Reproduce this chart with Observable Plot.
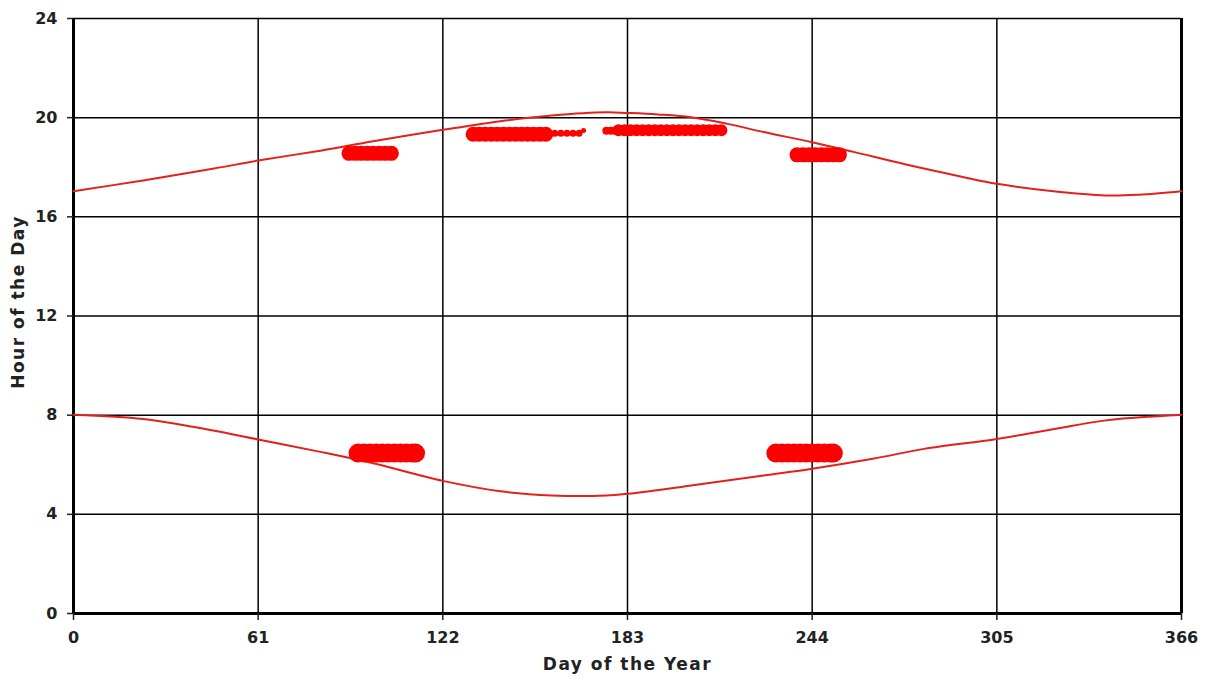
<!DOCTYPE html>
<html><head><meta charset="utf-8">
<script src="https://cdn.jsdelivr.net/npm/d3@7"></script>
<script src="https://cdn.jsdelivr.net/npm/@observablehq/plot@0.6"></script>
<style>body{margin:0;background:#fff}</style>
</head><body><div id="chart"></div>
<script>
const xTicks = [0, 61, 122, 183, 244, 305, 366];
const yTicks = [0, 4, 8, 12, 16, 20, 24];

// Sunset curve (upper)
const sunsetDays  = [0, 23, 46, 61, 82, 99, 122, 141, 158, 176, 183, 193, 204, 216, 228, 244, 258, 275, 293, 305, 323, 341, 352, 366];
const sunsetHours = [17.03, 17.47, 17.94, 18.27, 18.68, 19.05, 19.51, 19.86, 20.09, 20.22, 20.19, 20.13, 20.02, 19.75, 19.42, 19.01, 18.61, 18.11, 17.63, 17.33, 17.04, 16.86, 16.89, 17.03];

// Sunrise curve (lower)
const sunriseDays  = [0, 23, 40, 61, 82, 99, 122, 141, 158, 176, 183, 204, 228, 244, 264, 281, 305, 323, 341, 358, 366];
const sunriseHours = [8.02, 7.85, 7.52, 7.02, 6.51, 6.06, 5.35, 4.93, 4.76, 4.76, 4.83, 5.16, 5.57, 5.84, 6.24, 6.64, 7.04, 7.42, 7.79, 7.96, 8.02];

// Observation clusters
const clusterA = {days: [91, 93, 95, 97, 99, 101, 103, 105], hour: 18.56};
const clusterB = {days: [132, 134, 136, 138, 140, 142, 144, 146, 148, 150, 152, 154, 156], hour: 19.33};
const clusterBtail = {days: [157, 159, 161, 163, 165, 167], hour: 19.37};
const clusterCdot = {days: [168.5], hour: 19.48};
const clusterChead = {days: [176, 177.5, 179], hour: 19.47};
const clusterC = {days: [180, 182, 184, 186, 188, 190, 192, 194, 196, 198, 200, 202, 204, 206, 208, 210, 212, 214], hour: 19.49};
const clusterD = {days: [239, 241, 243, 245, 247, 249, 251, 253], hour: 18.5};
const clusterE = {days: [94, 96, 98, 100, 102, 104, 106, 108, 110, 112, 113], hour: 6.47};
const clusterF = {days: [232, 234, 236, 238, 240, 242, 244, 246, 248, 250, 251], hour: 6.47};

const toPts = (c) => c.days.map(d => ({day: d, hour: c.hour}));
const sunset = sunsetDays.map((d, i) => ({day: d, hour: sunsetHours[i]}));
const sunrise = sunriseDays.map((d, i) => ({day: d, hour: sunriseHours[i]}));

const red = "#ff0000";
const lineRed = "#e3201c";
const dots = (c, r) => Plot.dot(toPts(c), {x: "day", y: "hour", r, fill: red, stroke: "none"});
const font = "DejaVu Sans, Verdana, sans-serif";

const chart = Plot.plot({
  width: 1210,
  height: 684,
  marginLeft: 73,
  marginRight: 29,
  marginTop: 18,
  marginBottom: 71,
  style: {fontFamily: font, color: "#222", background: "#fff"},
  x: {domain: [0, 366]},
  y: {domain: [0, 24]},
  marks: [
    Plot.ruleX(xTicks, {stroke: "#000", strokeWidth: 1.5}),
    Plot.ruleY(yTicks, {stroke: "#000", strokeWidth: 1.5}),
    Plot.ruleX([0, 366], {stroke: "#000", strokeWidth: 3}),
    Plot.ruleY([0], {stroke: "#000", strokeWidth: 3}),
    Plot.axisX({ticks: xTicks, tickSize: 7, tickPadding: 11, fontSize: 16, fontWeight: "bold", strokeWidth: 1.5, label: null}),
    Plot.axisY({ticks: yTicks, tickSize: 6, tickPadding: 10, fontSize: 16, fontWeight: "bold", strokeWidth: 1.5, label: null}),
    Plot.line(sunset, {x: "day", y: "hour", stroke: lineRed, strokeWidth: 2, curve: "catmull-rom"}),
    Plot.line(sunrise, {x: "day", y: "hour", stroke: lineRed, strokeWidth: 2, curve: "catmull-rom"}),
    dots(clusterA, 7.5),
    dots(clusterB, 7.5),
    dots(clusterBtail, 3.5),
    dots(clusterCdot, 2.5),
    dots(clusterChead, 4),
    dots(clusterC, 6),
    dots(clusterD, 7.5),
    dots(clusterE, 9.5),
    dots(clusterF, 9.5),
    Plot.text(["Day of the Year"], {frameAnchor: "bottom", dy: 56, fontSize: 17, fontWeight: "bold", fill: "#222"}),
    Plot.text(["Hour of the Day"], {frameAnchor: "left", textAnchor: "middle", dx: -55, dy: -14, rotate: -90, fontSize: 17, fontWeight: "bold", fill: "#222"})
  ]
});
chart.querySelectorAll("text").forEach(t => {
  if (t.textContent === "Day of the Year" || t.textContent === "Hour of the Day") t.style.letterSpacing = "1.5px";
});
document.getElementById("chart").appendChild(chart);
</script>
</body></html>
